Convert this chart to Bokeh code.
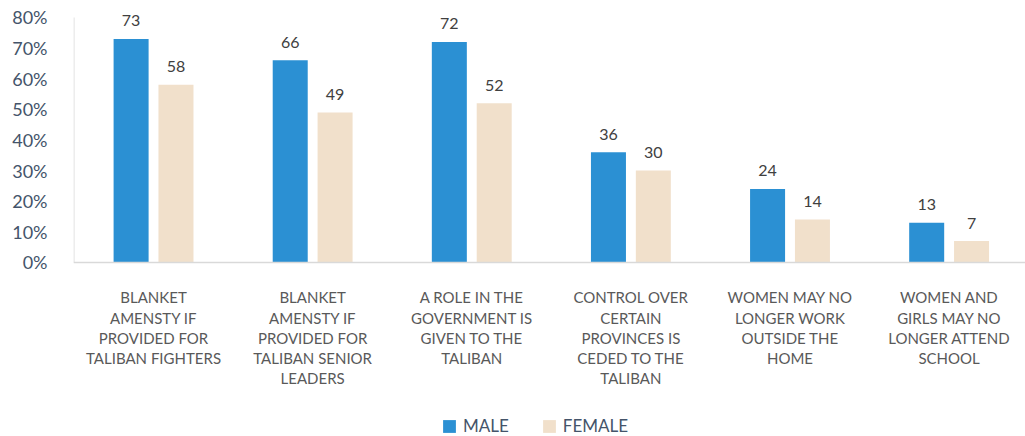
from bokeh.plotting import figure
from bokeh.models import (Range1d, FixedTicker, Legend, LegendItem, ColumnDataSource, Span)
from bokeh.core.properties import value
from bokeh.embed import file_html
from bokeh.resources import INLINE

categories = [
    "BLANKET\nAMENSTY IF\nPROVIDED FOR\nTALIBAN FIGHTERS",
    "BLANKET\nAMENSTY IF\nPROVIDED FOR\nTALIBAN SENIOR\nLEADERS",
    "A ROLE IN THE\nGOVERNMENT IS\nGIVEN TO THE\nTALIBAN",
    "CONTROL OVER\nCERTAIN\nPROVINCES IS\nCEDED TO THE\nTALIBAN",
    "WOMEN MAY NO\nLONGER WORK\nOUTSIDE THE\nHOME",
    "WOMEN AND\nGIRLS MAY NO\nLONGER ATTEND\nSCHOOL",
]
male = [73, 66, 72, 36, 24, 13]
female = [58, 49, 52, 30, 14, 7]
y_ticks = [0, 10, 20, 30, 40, 50, 60, 70, 80]
y_tick_labels = ["0%", "10%", "20%", "30%", "40%", "50%", "60%", "70%", "80%"]

FONT = "Lato"
MALE_C = "#2B90D3"
FEMALE_C = "#F1E0CB"
TXT = "#44546A"
LINE_C = "#D9D9D9"

idx = list(range(len(categories)))
male_x = [i - 0.141 for i in idx]
female_x = [i + 0.141 for i in idx]

p = figure(frame_width=952, frame_height=436, output_backend="svg", toolbar_location=None,
           x_axis_location=None,
           x_range=Range1d(-0.503, 5.48), y_range=Range1d(-56.82, 85.55),
           min_border_left=73, min_border_right=0, min_border_top=0, min_border_bottom=0)
p.outline_line_color = None
p.grid.visible = False
p.background_fill_color = "white"
p.border_fill_color = "white"

src_m = ColumnDataSource(dict(x=male_x, top=male, lab=[str(v) for v in male]))
src_f = ColumnDataSource(dict(x=female_x, top=female, lab=[str(v) for v in female]))
src_c = ColumnDataSource(dict(x=idx, y=[0] * len(idx), lab=categories))

rm = p.vbar(x="x", top="top", width=0.22, source=src_m, fill_color=MALE_C, line_color=None)
rf = p.vbar(x="x", top="top", width=0.22, source=src_f, fill_color=FEMALE_C, line_color=None)

for s in (src_m, src_f):
    p.text(x="x", y="top", text="lab", source=s, text_align="center", text_baseline="middle",
           y_offset=-18, text_font=value(FONT), text_font_size="16px", text_color="#404040")

# baseline and vertical axis line
p.add_layout(Span(location=0, dimension="width", line_color=LINE_C, line_width=1.5))
p.segment(x0=[-0.5], y0=[0], x1=[-0.5], y1=[80], line_color=LINE_C, line_width=1)

# category labels
p.text(x="x", y="y", text="lab", source=src_c, text_align="center", text_baseline="top",
       y_offset=26, text_font=value(FONT), text_font_size="15px", text_color="#595959",
       text_line_height=1.12)

p.yaxis.ticker = FixedTicker(ticks=y_ticks)
p.yaxis.major_label_overrides = {t: l for t, l in zip(y_ticks, y_tick_labels)}
p.yaxis.major_tick_line_color = None
p.yaxis.minor_tick_line_color = None
p.yaxis.axis_line_color = None
p.yaxis.major_label_text_font = FONT
p.yaxis.major_label_text_font_size = "18px"
p.yaxis.major_label_text_color = TXT
p.yaxis.major_label_standoff = 20

legend = Legend(items=[LegendItem(label="MALE", renderers=[rm]),
                       LegendItem(label="FEMALE", renderers=[rf])],
                orientation="horizontal", location=(368, 0),
                label_text_font=FONT, label_text_font_size="17px", label_text_color=TXT,
                glyph_width=16, glyph_height=16, label_standoff=6, spacing=32,
                border_line_color=None, background_fill_alpha=0, padding=0, margin=0)
p.add_layout(legend, "center")

open("out.html", "w").write(file_html(p, INLINE))
